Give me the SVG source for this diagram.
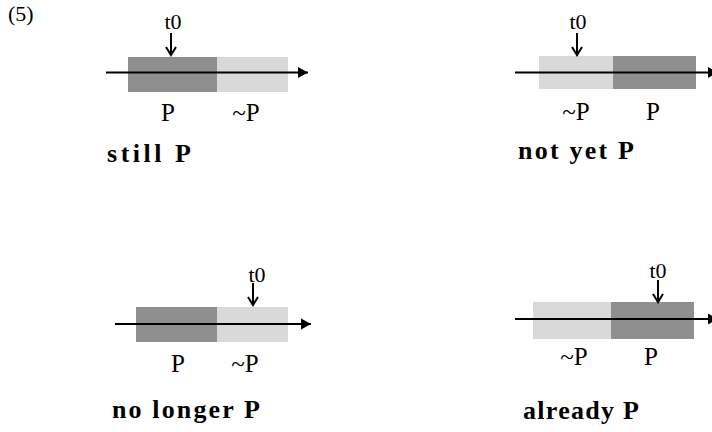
<svg xmlns="http://www.w3.org/2000/svg" width="712" height="432" viewBox="0 0 712 432">
<style>
.dk{fill:#8f8f8f}
.lt{fill:#d9d9d9}
.ax{stroke:#000;stroke-width:2;fill:none}
.tk{stroke:#000;stroke-width:2;fill:none}
</style>
<defs>
<marker id="ah" markerUnits="userSpaceOnUse" markerWidth="12" markerHeight="12" refX="10" refY="6" orient="auto">
<path d="M0,0.5 L10,6 L0,11.5 Z" fill="#000"/>
</marker>
</defs>
<rect width="712" height="432" fill="#fff"/>
<text x="8" y="21" font-family="Liberation Serif, Times New Roman, serif" font-size="22">(5)</text>

<g id="still" font-family="Liberation Serif, Times New Roman, serif">
<rect class="dk" x="128" y="57" width="89" height="35"/>
<rect class="lt" x="217" y="57" width="71" height="35"/>
<text x="173" y="29" font-size="22" text-anchor="middle">t0</text>
<text x="168" y="121" font-size="25" text-anchor="middle">P</text>
<text x="246" y="121" font-size="25" text-anchor="middle">~P</text>
<text x="107" y="162" font-size="26" font-weight="bold" textLength="84" lengthAdjust="spacing">still P</text>
</g>

<g id="notyet" font-family="Liberation Serif, Times New Roman, serif">
<rect class="lt" x="539" y="56" width="74" height="33"/>
<rect class="dk" x="613" y="56" width="83" height="33"/>
<text x="578" y="29" font-size="22" text-anchor="middle">t0</text>
<text x="576" y="120" font-size="25" text-anchor="middle">~P</text>
<text x="653" y="120" font-size="25" text-anchor="middle">P</text>
<text x="518" y="159" font-size="26" font-weight="bold" textLength="116" lengthAdjust="spacing">not yet P</text>
</g>

<g id="nolonger" font-family="Liberation Serif, Times New Roman, serif">
<rect class="dk" x="136" y="307" width="81" height="35"/>
<rect class="lt" x="217" y="307" width="71" height="35"/>
<text x="257" y="282" font-size="22" text-anchor="middle">t0</text>
<text x="178" y="372" font-size="25" text-anchor="middle">P</text>
<text x="245" y="372" font-size="25" text-anchor="middle">~P</text>
<text x="112" y="418" font-size="26" font-weight="bold" textLength="148" lengthAdjust="spacing">no longer P</text>
</g>

<g id="already" font-family="Liberation Serif, Times New Roman, serif">
<rect class="lt" x="533" y="302" width="78" height="37"/>
<rect class="dk" x="611" y="302" width="83" height="37"/>
<text x="658" y="278" font-size="22" text-anchor="middle">t0</text>
<text x="574" y="365" font-size="25" text-anchor="middle">~P</text>
<text x="651" y="365" font-size="25" text-anchor="middle">P</text>
<text x="523" y="419" font-size="26" font-weight="bold" textLength="116" lengthAdjust="spacing">already P</text>
</g>

<g id="connectors">
<line class="ax" x1="106" y1="72.5" x2="308" y2="72.5" marker-end="url(#ah)"/>
<line class="ax" x1="515" y1="72.5" x2="718" y2="72.5" marker-end="url(#ah)"/>
<line class="ax" x1="115" y1="324" x2="311" y2="324" marker-end="url(#ah)"/>
<line class="ax" x1="515" y1="319" x2="718" y2="319" marker-end="url(#ah)"/>
<path class="tk" d="M171,33 V55 M166,47 L171,55 L176,47"/>
<path class="tk" d="M577,33 V55 M572,47 L577,55 L582,47"/>
<path class="tk" d="M253,283 V305 M248,297 L253,305 L258,297"/>
<path class="tk" d="M658,280 V302 M653,294 L658,302 L663,294"/>
</g>
</svg>
